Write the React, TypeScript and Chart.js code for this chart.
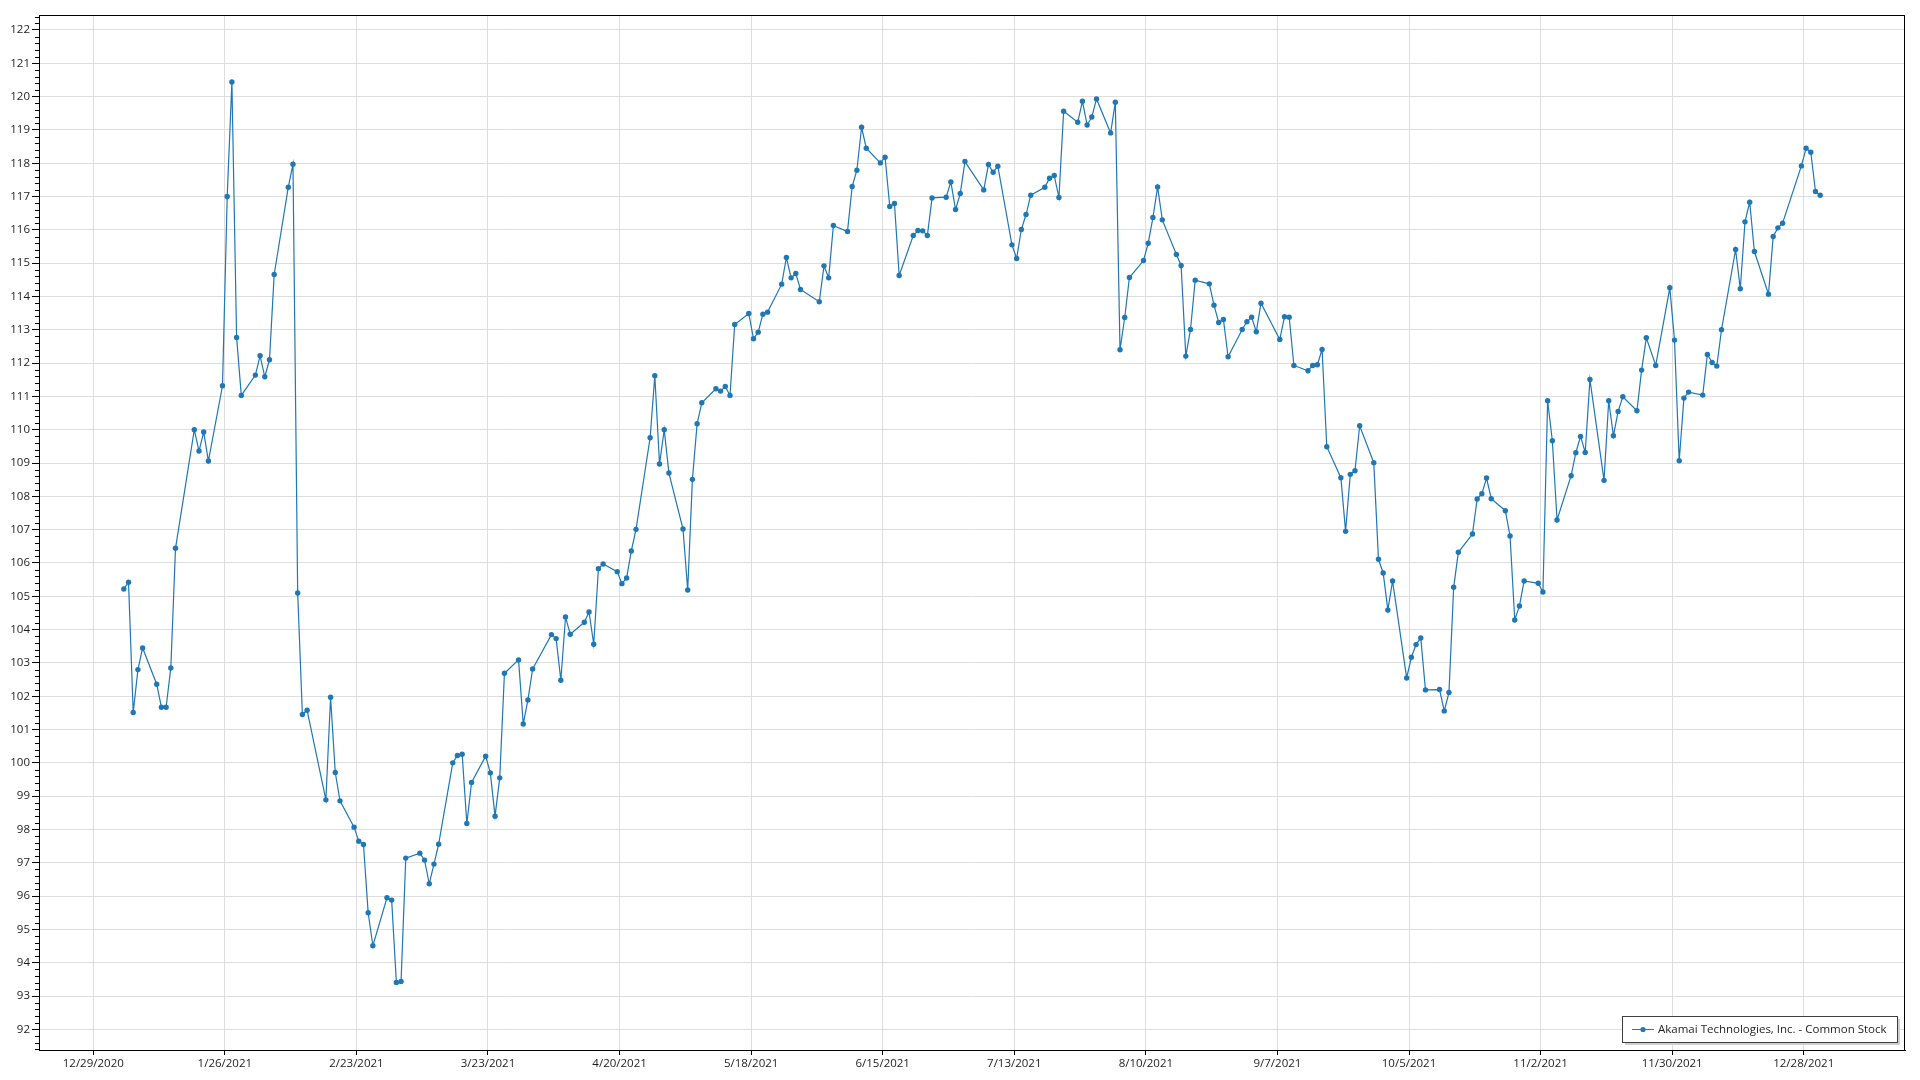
import React, { useEffect, useRef } from "react";
import { Chart, registerables } from "chart.js";

Chart.register(...registerables);

const SERIES_NAME = "Akamai Technologies, Inc. - Common Stock";
const YEAR = 2021;

const JAN_DAYS = [4, 5, 6, 7, 8, 11, 12, 13, 14, 15, 19, 20, 21, 22, 25, 26, 27, 28, 29];
const JAN_CLOSE = [105.22, 105.42, 101.51, 102.8, 103.45, 102.36, 101.67, 101.67, 102.85, 106.44, 110.0, 109.36, 109.93, 109.06, 111.32, 117.0, 120.44, 112.77, 111.03];

const FEB_DAYS = [1, 2, 3, 4, 5, 8, 9, 10, 11, 12, 16, 17, 18, 19, 22, 23, 24, 25, 26];
const FEB_CLOSE = [111.64, 112.22, 111.59, 112.1, 114.66, 117.28, 117.97, 105.1, 101.45, 101.58, 98.89, 101.97, 99.71, 98.86, 98.07, 97.65, 97.55, 95.5, 94.51];

const MAR_DAYS = [1, 2, 3, 4, 5, 8, 9, 10, 11, 12, 15, 16, 17, 18, 19, 22, 23, 24, 25, 26, 29, 30, 31];
const MAR_CLOSE = [95.95, 95.88, 93.41, 93.44, 97.14, 97.29, 97.08, 96.37, 96.96, 97.56, 100.0, 100.22, 100.26, 98.18, 99.41, 100.2, 99.7, 98.4, 99.55, 102.69, 103.09, 101.17, 101.89];

const APR_DAYS = [1, 5, 6, 7, 8, 9, 12, 13, 14, 15, 16, 19, 20, 21, 22, 23, 26, 27, 28, 29, 30];
const APR_CLOSE = [102.82, 103.85, 103.73, 102.48, 104.38, 103.86, 104.22, 104.53, 103.56, 105.83, 105.97, 105.74, 105.38, 105.55, 106.36, 107.01, 109.76, 111.62, 108.97, 110.0, 108.7];

const MAY_DAYS = [3, 4, 5, 6, 7, 10, 11, 12, 13, 14, 17, 18, 19, 20, 21, 24, 25, 26, 27, 28];
const MAY_CLOSE = [107.02, 105.19, 108.51, 110.18, 110.81, 111.23, 111.16, 111.3, 111.03, 113.16, 113.49, 112.73, 112.93, 113.47, 113.53, 114.37, 115.17, 114.56, 114.69, 114.21];

const JUN_DAYS = [1, 2, 3, 4, 7, 8, 9, 10, 11, 14, 15, 16, 17, 18, 21, 22, 23, 24, 25, 28, 29, 30];
const JUN_CLOSE = [113.84, 114.92, 114.56, 116.13, 115.95, 117.3, 117.79, 119.08, 118.45, 118.01, 118.18, 116.7, 116.79, 114.63, 115.83, 115.98, 115.97, 115.83, 116.96, 116.98, 117.44, 116.61];

const JUL_DAYS = [1, 2, 6, 7, 8, 9, 12, 13, 14, 15, 16, 19, 20, 21, 22, 23, 26, 27, 28, 29, 30];
const JUL_CLOSE = [117.09, 118.05, 117.2, 117.96, 117.73, 117.91, 115.55, 115.14, 116.01, 116.46, 117.04, 117.28, 117.55, 117.63, 116.97, 119.56, 119.23, 119.86, 119.15, 119.39, 119.93];

const AUG_DAYS = [2, 3, 4, 5, 6, 9, 10, 11, 12, 13, 16, 17, 18, 19, 20, 23, 24, 25, 26, 27, 30, 31];
const AUG_CLOSE = [118.91, 119.83, 112.4, 113.37, 114.57, 115.08, 115.6, 116.37, 117.29, 116.3, 115.26, 114.93, 112.21, 113.01, 114.49, 114.38, 113.74, 113.22, 113.31, 112.19, 113.01, 113.24];

const SEP_DAYS = [1, 2, 3, 7, 8, 9, 10, 13, 14, 15, 16, 17, 20, 21, 22, 23, 24, 27, 28, 29, 30];
const SEP_CLOSE = [113.38, 112.94, 113.8, 112.71, 113.39, 113.38, 111.93, 111.77, 111.93, 111.95, 112.41, 109.49, 108.56, 106.95, 108.66, 108.77, 110.12, 109.01, 106.11, 105.7, 104.59];

const OCT_DAYS = [1, 4, 5, 6, 7, 8, 11, 12, 13, 14, 15, 18, 19, 20, 21, 22, 25, 26, 27, 28, 29];
const OCT_CLOSE = [105.46, 102.55, 103.17, 103.55, 103.75, 102.19, 102.2, 101.56, 102.11, 105.27, 106.32, 106.87, 107.92, 108.08, 108.55, 107.93, 107.57, 106.81, 104.29, 104.71, 105.46];

const NOV_DAYS = [1, 2, 3, 4, 5, 8, 9, 10, 11, 12, 15, 16, 17, 18, 19, 22, 23, 24, 26, 29, 30];
const NOV_CLOSE = [105.39, 105.13, 110.87, 109.67, 107.29, 108.62, 109.31, 109.8, 109.32, 111.51, 108.48, 110.87, 109.82, 110.55, 110.99, 110.57, 111.79, 112.76, 111.93, 114.26, 112.69];

const DEC_DAYS = [1, 2, 3, 6, 7, 8, 9, 10, 13, 14, 15, 16, 17, 20, 21, 22, 23, 27, 28, 29, 30, 31];
const DEC_CLOSE = [109.07, 110.95, 111.13, 111.04, 112.26, 112.02, 111.91, 113.0, 115.41, 114.23, 116.24, 116.83, 115.35, 114.07, 115.8, 116.06, 116.2, 117.92, 118.45, 118.33, 117.15, 117.04];

const X_TICK_DATES = [
  "2020-12-29", "2021-01-26", "2021-02-23", "2021-03-23", "2021-04-20", "2021-05-18", "2021-06-15",
  "2021-07-13", "2021-08-10", "2021-09-07", "2021-10-05", "2021-11-02", "2021-11-30", "2021-12-28",
];
const Y_TICKS = [92, 93, 94, 95, 96, 97, 98, 99, 100, 101, 102, 103, 104, 105, 106, 107, 108, 109, 110, 111, 112, 113, 114, 115, 116, 117, 118, 119, 120, 121, 122];
const Y_MIN = 91.38;
const Y_MAX = 122.45;

const MONTHS: [number[], number[]][] = [
  [JAN_DAYS, JAN_CLOSE], [FEB_DAYS, FEB_CLOSE], [MAR_DAYS, MAR_CLOSE], [APR_DAYS, APR_CLOSE],
  [MAY_DAYS, MAY_CLOSE], [JUN_DAYS, JUN_CLOSE], [JUL_DAYS, JUL_CLOSE], [AUG_DAYS, AUG_CLOSE],
  [SEP_DAYS, SEP_CLOSE], [OCT_DAYS, OCT_CLOSE], [NOV_DAYS, NOV_CLOSE], [DEC_DAYS, DEC_CLOSE],
];

const DAY_MS = 86400000;
const EPOCH = Date.UTC(2020, 11, 29);
const toDays = (ms: number) => (ms - EPOCH) / DAY_MS;
const parseIso = (s: string) => {
  const [y, m, d] = s.split("-").map(Number);
  return toDays(Date.UTC(y, m - 1, d));
};
const fmtDay = (v: number) => {
  const dt = new Date(EPOCH + Math.round(v) * DAY_MS);
  return `${dt.getUTCMonth() + 1}/${dt.getUTCDate()}/${dt.getUTCFullYear()}`;
};

// closing time at midday of each trading day
const POINTS = MONTHS.flatMap(([days, close], m) =>
  days.map((d, i) => ({ x: toDays(Date.UTC(YEAR, m, d, 12)), y: close[i] }))
);

const LINE_COLOR = "#1f77b4";
const GRID_COLOR = "#dedede";
const TEXT_COLOR = "#1e1e1e";
const FONT_FAMILY = "'Segoe UI', 'Open Sans', 'Noto Sans', sans-serif";
const FONT_SIZE = 11.5;

const framePlugin = {
  id: "frameAndLegend",
  afterDraw(chart: any) {
    const { ctx, chartArea } = chart;
    const { left, right, top, bottom } = chartArea;
    const yScale = chart.scales.y;
    ctx.save();
    // minor y ticks
    ctx.strokeStyle = "#000";
    ctx.lineWidth = 1;
    ctx.beginPath();
    for (let k = Math.ceil(Y_MIN * 5); k <= Math.floor(Y_MAX * 5); k++) {
      if (k % 5 === 0) continue;
      const py = Math.round(yScale.getPixelForValue(k / 5)) + 0.5;
      ctx.moveTo(left - 4, py);
      ctx.lineTo(left, py);
    }
    ctx.stroke();
    // frame
    ctx.strokeStyle = "#000";
    ctx.lineWidth = 1;
    ctx.strokeRect(Math.round(left) + 0.5, Math.round(top) + 0.5, Math.round(right - left) - 1, Math.round(bottom - top));

    // legend
    ctx.font = `${FONT_SIZE}px ${FONT_FAMILY}`;
    const tw = ctx.measureText(SERIES_NAME).width;
    const bx1 = Math.round(right) - 8;
    const bx0 = Math.round(bx1 - tw - 46);
    const by1 = Math.round(bottom) - 8;
    const by0 = by1 - 26;
    ctx.fillStyle = "#cfcfcf";
    ctx.fillRect(bx0 + 3, by0 + 3, bx1 - bx0, by1 - by0);
    ctx.fillStyle = "#ffffff";
    ctx.fillRect(bx0, by0, bx1 - bx0, by1 - by0);
    ctx.strokeStyle = "#3f3f3f";
    ctx.strokeRect(bx0 + 0.5, by0 + 0.5, bx1 - bx0, by1 - by0);
    const cy = (by0 + by1) / 2 + 0.5;
    ctx.strokeStyle = LINE_COLOR;
    ctx.beginPath();
    ctx.moveTo(bx0 + 10, cy);
    ctx.lineTo(bx0 + 32, cy);
    ctx.stroke();
    ctx.fillStyle = LINE_COLOR;
    ctx.beginPath();
    ctx.arc(bx0 + 21, cy, 2.6, 0, Math.PI * 2);
    ctx.fill();
    ctx.fillStyle = TEXT_COLOR;
    ctx.textBaseline = "middle";
    ctx.textAlign = "left";
    ctx.fillText(SERIES_NAME, bx0 + 36, cy);
    ctx.restore();
  },
};

export default function App() {
  const canvasRef = useRef<HTMLCanvasElement | null>(null);

  useEffect(() => {
    document.body.style.margin = "0";
    document.body.style.overflow = "hidden";
    const canvas = canvasRef.current;
    if (!canvas) return;
    const first = POINTS[0].x;
    const last = POINTS[POINTS.length - 1].x;
    const pad = (last - first) * 0.05;
    const font = { family: FONT_FAMILY, size: FONT_SIZE };

    const chart = new Chart(canvas, {
      type: "line",
      data: {
        datasets: [
          {
            label: SERIES_NAME,
            data: POINTS,
            borderColor: LINE_COLOR,
            backgroundColor: LINE_COLOR,
            borderWidth: 1.2,
            pointRadius: 2.7,
            pointBorderWidth: 0,
            pointBackgroundColor: LINE_COLOR,
            tension: 0,
            fill: false,
          },
        ],
      },
      options: {
        animation: false,
        responsive: false,
        events: [],
        devicePixelRatio: 1,
        layout: { padding: { top: 15, right: 15, left: 0, bottom: 0 } },
        plugins: { legend: { display: false }, tooltip: { enabled: false }, title: { display: false } },
        scales: {
          x: {
            type: "linear",
            min: first - pad,
            max: last + pad,
            afterBuildTicks: (s: any) => {
              s.ticks = X_TICK_DATES.map((d) => ({ value: parseIso(d) }));
            },
            afterFit: (s: any) => {
              s.height = 30;
            },
            ticks: {
              autoSkip: false,
              maxRotation: 0,
              minRotation: 0,
              padding: 2,
              color: TEXT_COLOR,
              font,
              callback: (v: any) => fmtDay(Number(v)),
            },
            grid: { color: GRID_COLOR, tickColor: "#000", tickLength: 5, drawTicks: true, lineWidth: 1 },
            border: { display: true, color: "#000", width: 1 },
          },
          y: {
            type: "linear",
            min: Y_MIN,
            max: Y_MAX,
            afterBuildTicks: (s: any) => {
              s.ticks = Y_TICKS.map((v) => ({ value: v }));
            },
            afterFit: (s: any) => {
              s.width = 39;
            },
            ticks: {
              autoSkip: false,
              padding: 2,
              color: TEXT_COLOR,
              font,
              callback: (v: any) => String(v),
            },
            grid: { color: GRID_COLOR, tickColor: "#000", tickLength: 7, drawTicks: true, lineWidth: 1 },
            border: { display: true, color: "#000", width: 1 },
          },
        },
      },
      plugins: [framePlugin],
    } as any);

    return () => chart.destroy();
  }, []);

  return (
    <div style={{ position: "absolute", left: 0, top: 0, width: 1920, height: 1080, background: "#fff" }}>
      <canvas ref={canvasRef} width={1920} height={1080} style={{ display: "block", width: 1920, height: 1080 }} />
    </div>
  );
}
